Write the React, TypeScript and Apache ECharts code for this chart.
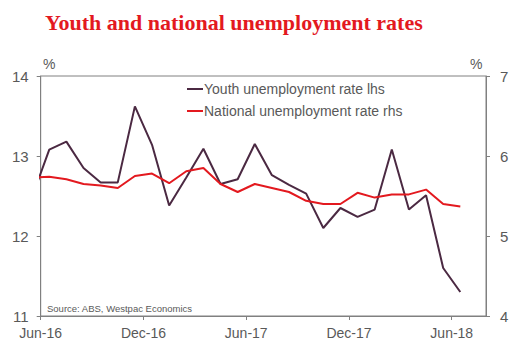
import React, { useEffect, useRef } from "react";
import * as echarts from "echarts";

const months = [
  "May-16", "Jun-16", "Jul-16", "Aug-16", "Sep-16", "Oct-16", "Nov-16", "Dec-16",
  "Jan-17", "Feb-17", "Mar-17", "Apr-17", "May-17", "Jun-17", "Jul-17", "Aug-17",
  "Sep-17", "Oct-17", "Nov-17", "Dec-17", "Jan-18", "Feb-18", "Mar-18", "Apr-18",
  "May-18", "Jun-18",
];
const youthRate = [
  12.49, 13.08, 13.18, 12.85, 12.67, 12.67, 13.62, 13.14,
  12.38, 12.73, 13.09, 12.65, 12.71, 13.15, 12.76, 12.64,
  12.53, 12.1, 12.35, 12.24, 12.33, 13.08, 12.33, 12.51,
  11.6, 11.3,
];
const nationalRate = [
  5.73, 5.74, 5.71, 5.65, 5.63, 5.6, 5.75, 5.78,
  5.66, 5.81, 5.85, 5.65, 5.55, 5.65, 5.6, 5.55,
  5.44, 5.4, 5.4, 5.54, 5.48, 5.52, 5.52, 5.58,
  5.4, 5.37,
];
const xTickLabels = ["Jun-16", "Dec-16", "Jun-17", "Dec-17", "Jun-18"];

const GRAY = "#595959";
const AXIS = "#808080";

export default function App() {
  const ref = useRef<HTMLDivElement>(null);
  useEffect(() => {
    if (!ref.current) return;
    const chart = echarts.init(ref.current, null, { renderer: "svg" });
    const toXY = (arr: number[]) => arr.map((v, i) => [i - 0.5, v]);
    chart.setOption({
      animation: false,
      backgroundColor: "#ffffff",
      title: {
        text: "Youth and national unemployment rates",
        left: 40,
        top: 6,
        textStyle: {
          fontFamily: "Liberation Serif",
          fontWeight: "bold",
          fontSize: 22,
          color: "#e3191f",
        },
      },
      legend: {
        orient: "vertical",
        left: 182,
        top: 77,
        itemWidth: 16,
        itemHeight: 2,
        itemGap: 8,
        icon: "rect",
        textStyle: {
          fontFamily: "Liberation Sans",
          fontSize: 14,
          color: GRAY,
          padding: [0, 0, 0, -4],
        },
        data: ["Youth unemployment rate lhs", "National unemployment rate rhs"],
      },
      grid: {
        left: 40.7,
        right: 37,
        top: 76,
        bottom: 45,
        show: true,
        borderColor: AXIS,
        borderWidth: 1,
      },
      xAxis: {
        type: "value",
        min: 0,
        max: 26,
        interval: 6,
        axisLine: { lineStyle: { color: AXIS } },
        axisTick: { show: true, length: 4, lineStyle: { color: AXIS } },
        splitLine: { show: false },
        axisLabel: {
          fontFamily: "Liberation Sans",
          fontSize: 14,
          color: GRAY,
          margin: 10,
          showMaxLabel: false,
          formatter: (v: number) => xTickLabels[Math.round(v / 6)] ?? "",
        },
      },
      yAxis: [
        {
          type: "value",
          min: 11,
          max: 14,
          interval: 1,
          position: "left",
          axisLine: { show: true, lineStyle: { color: AXIS } },
          axisTick: { show: true, length: 4, lineStyle: { color: AXIS } },
          splitLine: { show: false },
          axisLabel: {
            fontFamily: "Liberation Sans",
            fontSize: 15,
            color: GRAY,
            margin: 12,
          },
        },
        {
          type: "value",
          min: 4,
          max: 7,
          interval: 1,
          position: "right",
          axisLine: { show: true, lineStyle: { color: AXIS } },
          axisTick: { show: true, length: 4, lineStyle: { color: AXIS } },
          splitLine: { show: false },
          axisLabel: {
            fontFamily: "Liberation Sans",
            fontSize: 15,
            color: GRAY,
            margin: 14,
          },
        },
      ],
      graphic: [
        {
          type: "text",
          left: 43,
          top: 57,
          style: { text: "%", fontFamily: "Liberation Sans", fontSize: 14, fill: GRAY },
        },
        {
          type: "text",
          left: 470,
          top: 57,
          style: { text: "%", fontFamily: "Liberation Sans", fontSize: 14, fill: GRAY },
        },
        {
          type: "text",
          left: 47,
          top: 303,
          style: {
            text: "Source: ABS, Westpac Economics",
            fontFamily: "Liberation Sans",
            fontSize: 9.5,
            fill: GRAY,
          },
        },
      ],
      series: [
        {
          name: "Youth unemployment rate lhs",
          type: "line",
          yAxisIndex: 0,
          data: toXY(youthRate),
          showSymbol: false,
          symbol: "none",
          clip: true,
          itemStyle: { color: "#4b2942" },
          lineStyle: { color: "#4b2942", width: 2 },
        },
        {
          name: "National unemployment rate rhs",
          type: "line",
          yAxisIndex: 1,
          data: toXY(nationalRate),
          showSymbol: false,
          symbol: "none",
          clip: true,
          itemStyle: { color: "#e3191f" },
          lineStyle: { color: "#e3191f", width: 2 },
        },
      ],
    });
    return () => chart.dispose();
  }, []);
  return (
    <div
      ref={ref}
      style={{ position: "fixed", left: 0, top: 0, width: 523, height: 361 }}
    />
  );
}
